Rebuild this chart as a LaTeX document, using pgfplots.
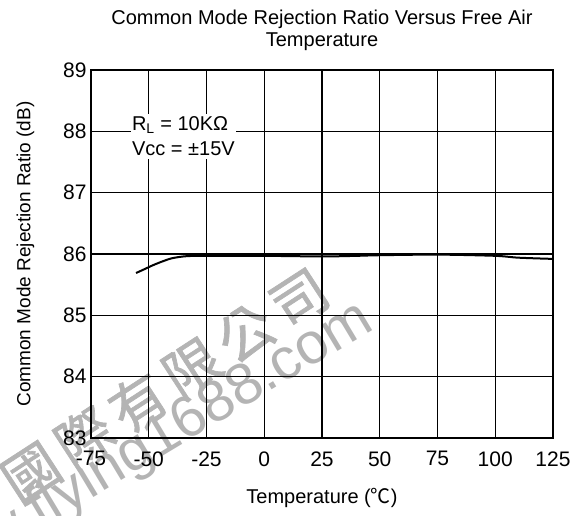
\documentclass[border=0pt]{standalone}
\usepackage{pgfplots}
\pgfplotsset{compat=1.18}
\usepackage{fontspec}
\setmainfont{Liberation Sans}
\newfontfamily\cjk{Noto Sans CJK TC}
\newfontfamily\cjkwm[FakeBold=1.2]{Noto Sans CJK TC}
\definecolor{wm}{HTML}{B4B4B4}
\begin{document}
\begin{tikzpicture}
\useasboundingbox (-91pt,-78pt) rectangle (483pt,438pt);
\node[rotate=33, font=\cjkwm\fontsize{56}{56}\selectfont, text=wm] at (74pt,53pt) {國\hspace{8pt}際\hspace{8pt}有\hspace{8pt}限\hspace{8pt}公\hspace{8pt}司};
\node[rotate=31, anchor=mid west, font=\fontsize{58}{58}\selectfont, text=wm] at (-173pt,-162pt) {www.flying1688.com};
\begin{axis}[
  at={(0,0)}, anchor=south west,
  scale only axis, width=462pt, height=368pt,
  xmin=-75, xmax=125, ymin=83, ymax=89,
  xtick={-75,-50,...,125}, ytick={83,84,...,89},
  grid=major, major grid style={black, line width=1.1pt},
  axis line style={black, line width=1.1pt},
  tick style={draw=none},
  /pgf/number format/assume math mode=true,
  ticklabel style={font=\fontsize{21}{24}\selectfont},
  xticklabel style={yshift=-10pt, anchor=north},
  yticklabel style={xshift=-1pt},
  xlabel={Temperature ({\cjk ℃})},
  xlabel style={font=\fontsize{20}{24}\selectfont, yshift=-15pt},
  ylabel={Common Mode Rejection Ratio (dB)},
  ylabel style={font=\fontsize{19}{22}\selectfont, yshift=22pt},
  title={Common Mode Rejection Ratio Versus Free Air\\Temperature},
  title style={font=\fontsize{20}{21.5}\selectfont, align=center, yshift=10pt},
  clip=false,
]
\addplot[black, line width=2pt, smooth] coordinates {
(-55.5,85.69) (-52,85.75) (-48,85.82) (-44,85.88) (-40,85.93) (-35,85.96) (-30,85.97) (-25,85.97)
(0,85.97) (25,85.96) (40,85.97) (50,85.98) (75,85.99) (100,85.97) (110,85.94) (125,85.92)
};
\node[anchor=center, fill=white, inner xsep=1pt, inner ysep=3pt, align=left, font=\fontsize{20}{25}\selectfont] at (axis cs:-35,87.92) {R\textsubscript{L} = 10KΩ\\Vcc = ±15V};
\end{axis}
\end{tikzpicture}
\end{document}
